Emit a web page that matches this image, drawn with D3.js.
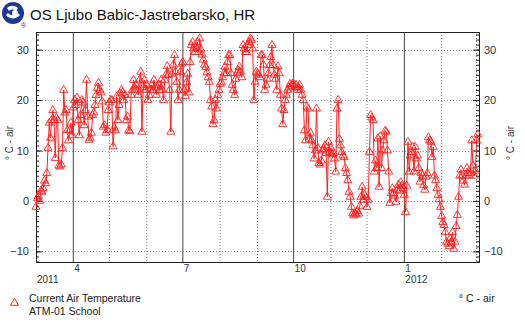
<!DOCTYPE html>
<html>
<head>
<meta charset="utf-8">
<script src="https://cdn.jsdelivr.net/npm/d3@7"></script>
<style>
  body { margin: 0; background: #fff; }
  svg { display: block; font-family: "Liberation Sans", Arial, sans-serif; }
</style>
</head>
<body>
<svg id="chart" width="525" height="324"></svg>
<script>
// daily readings, one array per month (deg C)
var mar11 = [-1.2, 0.5, 1, 0, 2, 1.8, 2.5, 4, 3.5, 5.5, 10.5, 15.5, 12.5, 16, 18, 16, 8.5, 16.5, 16, 7, 6.8, 7.2, 10.5, 22, 17.5, 18, 14, 12, 14, 15.5, 13];
var apr11 = [18.5, 20, 19, 20.5, 16, 13, 17, 20, 19.5, 15, 18, 24, 16.7, 12.1, 12.5, 13.5, 17, 17.5, 19, 21, 22.4, 23.4, 22, 21.5, 19.7, 14.7, 15, 13.5, 14, 18];
var may11 = [19.5, 20, 20, 10.8, 14.5, 14, 20.7, 16, 19, 21.3, 22, 21.5, 20, 21, 16, 16.7, 14, 13.8, 21, 22, 24, 22.5, 23, 22, 21, 24, 25.6, 13.7, 22.5, 24, 22];
var jun11 = [23, 20, 21, 22, 23, 22, 24, 22.5, 21, 22.5, 23, 22, 24, 22, 20, 24, 25, 26.7, 25, 22, 13.7, 25.2, 27, 28.9, 25.6, 23.6, 20, 22, 25.6, 27.2];
var jul11 = [27.5, 22, 20.8, 23.5, 25.2, 21.5, 27.5, 30.9, 31.5, 30.2, 29.5, 30.5, 31.5, 29.5, 32.2, 30, 29, 28, 27, 26.5, 25.5, 24.5, 23.6, 20, 18.7, 15.2, 16, 20, 18.3, 21, 22];
var aug11 = [23.2, 23.5, 24.5, 25.3, 26.6, 25.3, 27.5, 28.9, 28.9, 25.3, 23, 22, 21, 24.2, 25.3, 25.9, 26.6, 25.6, 24.5, 30.9, 30.2, 29.5, 29.5, 30.9, 31.5, 32.2, 31.9, 30.2, 20, 23.6, 25.6];
var sep11 = [25.3, 25, 24.5, 28.9, 28.9, 27, 22, 23, 24.2, 25.3, 26.9, 28.5, 30.9, 26.9, 25, 24.2, 22, 26.7, 25.3, 21, 18.3, 15.2, 18, 20, 21, 22, 22.5, 23.2, 22.8, 23.2];
var oct11 = [23.2, 22.5, 23, 22, 22.5, 23, 22, 21, 20, 14, 12, 18.7, 18.3, 12.3, 13.5, 12, 11, 8.4, 10, 18.3, 10.5, 7.5, 7.2, 8, 10, 10.3, 11, 9.5, 0.8, 11.7, 9.7];
var nov11 = [10.5, 9.3, 9.5, 8.4, 5.8, 18.3, 20, 12.3, 11, 9.7, 9, 8.7, 6.5, 5.5, 4.1, 1.8, 0.8, -1.2, -2.5, -2.9, -2.5, -2.7, -2, -2.5, -1, 0.8, 2.8, 0.2, 1.2, 0.8];
var dec11 = [-1.2, 0.2, 9.7, 17, 16.5, 16, 5.8, 8, 6.5, 12.4, 2.8, 12.8, 6.5, 10, 12, 13.9, 13.7, 10, 5.8, -0.4, 1.5, 2.5, 1.5, 1, -0.2, 2.2, 3.2, 2, 3.7, 3, 2.5];
var jan12 = [1.2, -2.2, 3, 11.7, 5.8, 9, 9.7, 10.7, 5.8, 10.7, 8.4, 9, 6.5, 3.8, 5.5, 5, 3.1, 2.2, 4.8, 5.5, 12.6, 12, 11.7, 8.7, 10.7, 5, 4.1, 2.5, 1.2, 0.3, -1.2];
var feb12 = [-3, -4.2, -4.8, -6.2, -8.1, -8.5, -9, -7.5, -8.1, -6.2, -9.5, -8.1, -5, -2.8, 0.8, 5, 6.2, 5, 4, 3.2, 5, 6.5, 5.5, 5, 5.5, 12, 7, 5, 6];
var mar12 = [12, 13.2];

var monthLabels = ["4", "7", "10", "1"];
var yearLabels = ["2011", "2012"];
var yTicks = [-10, 0, 10, 20, 30];

var title = "OS Ljubo Babic-Jastrebarsko, HR";
var axisTitle = "\u00b0 C - air";

var temps = [].concat(mar11, apr11, may11, jun11, jul11, aug11, sep11, oct11, nov11, dec11, jan12, feb12, mar12);
var data = temps.map(function(v, i){
    return {date: new Date(2011, 2, 1 + i), value: v};
});

var svg = d3.select('#chart');
var x0 = 36, x1 = 479, y0 = 32, y1 = 262;

var x = d3.scaleTime()
    .domain([new Date(2011, 2, 1), new Date(2012, 2, 3)])
    .range([x0, x1]);
var y = d3.scaleLinear()
    .domain([-12.1, 33.5])
    .range([y1, y0]);

// logo
var logo = svg.append('g').attr('transform', 'translate(13,13)');
logo.append('circle').attr('r', 11).attr('fill', '#1f3796');
logo.append('path')
    .attr('d', 'M-6,-5 C-3,-8 2,-8 5,-5 L3,-2 C1,-4 -2,-4 -4,-2 Z M-7,2 C-4,6 3,7 7,2 L5,0 C2,3 -2,3 -5,0 Z')
    .attr('fill', '#fff');
logo.append('circle').attr('cx', 2).attr('cy', 0).attr('r', 3).attr('fill', '#fff');
svg.append('text').attr('x', 21).attr('y', 28).attr('font-size', 7).attr('fill', '#1f3796').text('\u00ae');

svg.append('text')
    .attr('x', 30).attr('y', 20)
    .attr('font-size', 15).attr('fill', '#111')
    .text(title);

// month grid
var months = d3.timeMonth.range(new Date(2011, 3, 1), new Date(2012, 2, 2));
svg.append('g').selectAll('line')
    .data(months)
    .enter().append('line')
    .attr('x1', function(d){ return x(d); })
    .attr('x2', function(d){ return x(d); })
    .attr('y1', y0).attr('y2', y1)
    .attr('stroke', function(d){ return d.getMonth() % 3 == 0 ? '#444' : '#777'; })
    .attr('stroke-width', 1)
    .attr('stroke-dasharray', function(d){ return d.getMonth() % 3 == 0 ? null : '1,2'; });

svg.append('g').selectAll('line')
    .data(yTicks)
    .enter().append('line')
    .attr('x1', x0).attr('x2', x1)
    .attr('y1', function(d){ return Math.round(y(d)) + 0.5; })
    .attr('y2', function(d){ return Math.round(y(d)) + 0.5; })
    .attr('stroke', '#888')
    .attr('stroke-dasharray', '1,2');

// y axes with inward ticks
var minor = d3.range(-12, 34);
svg.append('g').attr('transform', 'translate(' + x0 + ',0)')
    .call(d3.axisLeft(y).tickValues(minor).tickSize(-3).tickFormat(''))
    .call(function(g){ g.select('.domain').remove(); });
svg.append('g').attr('transform', 'translate(' + x1 + ',0)')
    .call(d3.axisRight(y).tickValues(minor).tickSize(-3).tickFormat(''))
    .call(function(g){ g.select('.domain').remove(); });
svg.append('g').attr('transform', 'translate(' + x0 + ',0)')
    .call(d3.axisLeft(y).tickValues(yTicks).tickSize(-6).tickPadding(7).tickFormat(d3.format('')))
    .call(function(g){ g.select('.domain').remove(); });
svg.append('g').attr('transform', 'translate(' + x1 + ',0)')
    .call(d3.axisRight(y).tickValues(yTicks).tickSize(-6).tickPadding(5).tickFormat(d3.format('')))
    .call(function(g){ g.select('.domain').remove(); });
svg.selectAll('.tick text')
    .attr('font-family', '"Liberation Sans", Arial, sans-serif')
    .attr('font-size', 11).attr('fill', '#333');
svg.selectAll('.tick line').attr('stroke', '#222');

svg.append('rect')
    .attr('x', x0 + 0.5).attr('y', y0 + 0.5)
    .attr('width', x1 - x0).attr('height', y1 - y0)
    .attr('fill', 'none').attr('stroke', '#222');

// x labels
var quarterDates = [new Date(2011, 3, 1), new Date(2011, 6, 1), new Date(2011, 9, 1), new Date(2012, 0, 1)];
svg.append('g').selectAll('text')
    .data(quarterDates)
    .enter().append('text')
    .attr('x', function(d){ return x(d) + 1; })
    .attr('y', 272)
    .attr('font-size', 10).attr('fill', '#333')
    .text(function(d, i){ return monthLabels[i]; });
svg.append('g').selectAll('text')
    .data([new Date(2011, 2, 1), new Date(2012, 0, 1)])
    .enter().append('text')
    .attr('x', function(d){ return x(d) + 1; })
    .attr('y', 283)
    .attr('font-size', 10).attr('fill', '#333')
    .text(function(d, i){ return yearLabels[i]; });

// axis titles
svg.append('text')
    .attr('transform', 'translate(13,143) rotate(-90)')
    .attr('text-anchor', 'middle')
    .attr('font-size', 10).attr('fill', '#333')
    .text(axisTitle);
svg.append('text')
    .attr('transform', 'translate(514,143) rotate(-90)')
    .attr('text-anchor', 'middle')
    .attr('font-size', 10).attr('fill', '#333')
    .text(axisTitle);

// series
var tri = d3.symbol().type(d3.symbolTriangle).size(28);
var line = d3.line()
    .x(function(d){ return x(d.date); })
    .y(function(d){ return y(d.value); });

svg.append('path')
    .datum(data)
    .attr('d', line)
    .attr('fill', 'none')
    .attr('stroke', '#ff2020')
    .attr('stroke-width', 1);

svg.append('g').selectAll('path')
    .data(data)
    .enter().append('path')
    .attr('transform', function(d){ return 'translate(' + x(d.date) + ',' + y(d.value) + ')'; })
    .attr('d', tri)
    .attr('fill', 'none')
    .attr('stroke', '#ff2020')
    .attr('stroke-width', 0.9);

// legend
svg.append('path')
    .attr('transform', 'translate(14.5,303)')
    .attr('d', tri)
    .attr('fill', 'none')
    .attr('stroke', '#ff2020');
svg.append('text')
    .attr('x', 29).attr('y', 302)
    .attr('font-size', 10.5).attr('fill', '#222')
    .text('Current Air Temperature');
svg.append('text')
    .attr('x', 29).attr('y', 315)
    .attr('font-size', 10.5).attr('fill', '#222')
    .text('ATM-01 School');
svg.append('text')
    .attr('x', 459).attr('y', 302)
    .attr('font-size', 10.5).attr('fill', '#222')
    .text(axisTitle);
</script>
</body>
</html>
